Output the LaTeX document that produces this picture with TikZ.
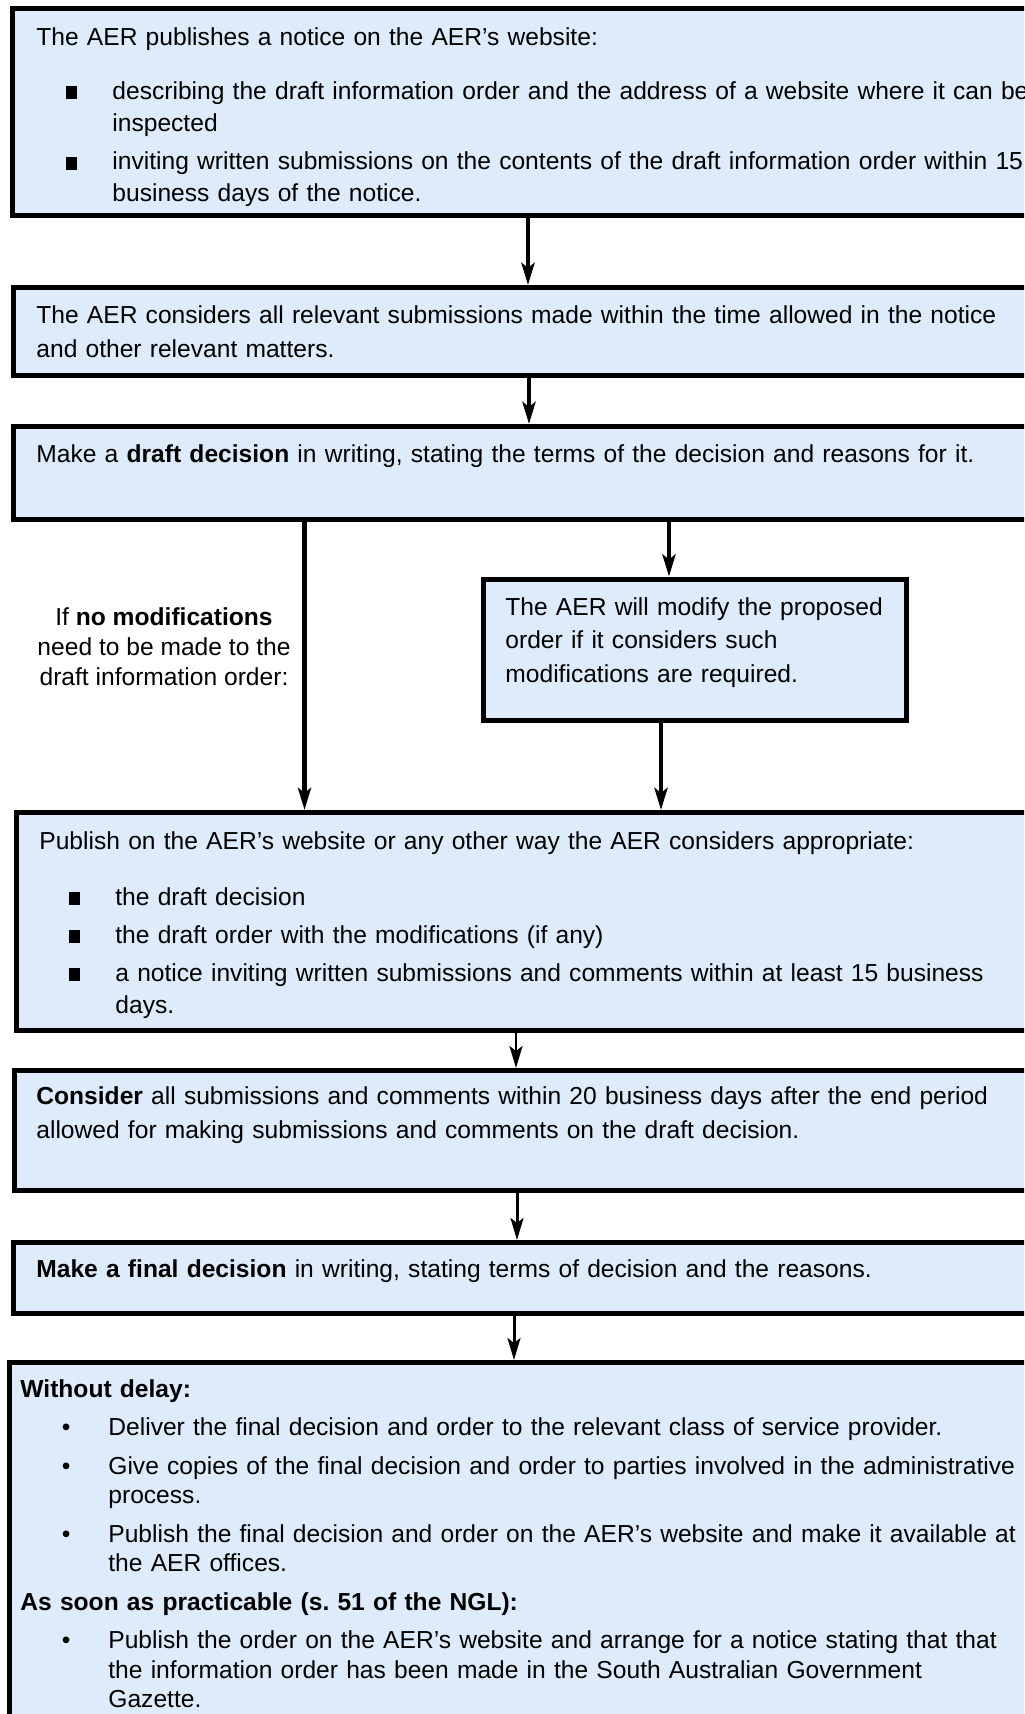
\documentclass[tikz,border=0pt]{standalone}
\usepackage{fontspec}
\setmainfont{Liberation Sans}
\usetikzlibrary{arrows.meta,positioning,fit}
\definecolor{aerblue}{RGB}{221,235,250}
\setlength{\parindent}{0pt}
\frenchspacing
\newcommand{\aerstrut}{\rule{0pt}{10pt}}
\newcommand{\sqitem}{\par\noindent\hangindent=38pt\hangafter=1\makebox[38pt][l]{\hspace{15pt}\rule{5.5pt}{6.5pt}}}
\newcommand{\dotitem}{\par\noindent\hangindent=44pt\hangafter=1\makebox[44pt][l]{\hspace{20.8pt}\textbullet}}
\tikzset{
  stepbox/.style={draw=black, fill=aerblue, line width=2.5pt, inner sep=0pt},
  steptext/.style={anchor=north west, inner sep=0pt, text width=540pt, align=left},
  flowarrow/.style={-{Stealth[length=11pt,width=6.5pt,inset=2.5pt]}, line width=2.25pt},
}
\begin{document}
\begin{tikzpicture}[x=0.5pt, y=-0.5pt, font=\fontsize{12.3pt}{16pt}\selectfont]
  \useasboundingbox (0,0) rectangle (1024,1714);
  \clip (0,0) rectangle (1024,1714);

  %caixas
  \node[stepbox, fit={(12.5,8) (1060,215)}] (b1) {};
  \node[stepbox, fit={(13.5,287.5) (1060,375.5)}] (b2) {};
  \node[stepbox, fit={(13.5,426.5) (1060,519.5)}] (b3) {};
  \node[stepbox, fit={(483.5,579) (906,720)}] (bm) {};
  \node[stepbox, fit={(16.5,812.5) (1060,1030.5)}] (b4) {};
  \node[stepbox, fit={(14,1070.5) (1060,1190.5)}] (b5) {};
  \node[stepbox, fit={(13,1242.5) (1060,1313)}] (b6) {};
  \node[stepbox, fit={(9,1362.5) (1060,1760)}] (b7) {};

  %textos
  \node[steptext] (t1) at (36,25) {\setlength{\parskip}{3.25pt}\aerstrut The AER publishes a notice on the AER’s website:\par\vspace{7.75pt}
    \sqitem describing the draft information order and the address of a website where it can be\newline inspected
    \sqitem inviting written submissions on the contents of the draft information order within 15\newline business days of the notice.\par};
  \node[steptext, font=\fontsize{12.3pt}{17pt}\selectfont] (t2) at (36,303) {\aerstrut The AER considers all relevant submissions made within the time allowed in the notice\\and other relevant matters.};
  \node[steptext] (t3) at (36,442) {\aerstrut Make a \textbf{draft decision} in writing, stating the terms of the decision and reasons for it.};
  \node[steptext, font=\fontsize{12.3pt}{16.75pt}\selectfont] (tm) at (505,595) {\aerstrut The AER will modify the proposed\\order if it considers such\\modifications are required.};
  \node[anchor=north, align=center, inner sep=0pt, font=\fontsize{12.3pt}{15pt}\selectfont] (lbl) at (164,605) {\aerstrut If \textbf{no modifications}\\need to be made to the\\draft information order:};
  \node[steptext] (t4) at (39,829) {\setlength{\parskip}{3pt}\aerstrut Publish on the AER’s website or any other way the AER considers appropriate:\par\vspace{9pt}
    \sqitem the draft decision
    \sqitem the draft order with the modifications (if any)
    \sqitem a notice inviting written submissions and comments within at least 15 business\newline days.\par};
  \node[steptext, font=\fontsize{12.3pt}{17pt}\selectfont] (t5) at (36,1084) {\aerstrut\textbf{Consider} all submissions and comments within 20 business days after the end period\\allowed for making submissions and comments on the draft decision.};
  \node[steptext] (t6) at (36,1257) {\aerstrut\textbf{Make a final decision} in writing, stating terms of decision and the reasons.};
  \node[steptext, font=\fontsize{12.3pt}{14.75pt}\selectfont] (t7) at (20,1377) {\setlength{\parskip}{4.5pt}\aerstrut\textbf{Without delay:}
    \dotitem Deliver the final decision and order to the relevant class of service provider.
    \dotitem Give copies of the final decision and order to parties involved in the administrative\newline process.
    \dotitem Publish the final decision and order on the AER’s website and make it available at\newline the AER offices.
    \par\textbf{As soon as practicable (s. 51 of the NGL):}
    \dotitem Publish the order on the AER’s website and arrange for a notice stating that that\newline the information order has been made in the South Australian Government\newline Gazette.\par};

  %setas
  \coordinate (x1) at (528,0);
  \coordinate (x2) at (529,0);
  \coordinate (x3) at (304.5,0);
  \coordinate (x4) at (669,0);
  \coordinate (x5) at (661,0);
  \coordinate (x6) at (516,0);
  \coordinate (x7) at (517,0);
  \coordinate (x8) at (514,0);
  \draw[flowarrow] (b1.south -| x1) -- (b2.north -| x1);
  \draw[flowarrow] (b2.south -| x2) -- (b3.north -| x2);
  \draw[flowarrow] (b3.south -| x3) -- (b4.north -| x3);
  \draw[flowarrow] (b3.south -| x4) -- (bm.north -| x4);
  \draw[flowarrow] (bm.south -| x5) -- (b4.north -| x5);
  \draw[flowarrow, line width=1pt] (b4.south -| x6) -- (b5.north -| x6);
  \draw[flowarrow, line width=1.5pt] (b5.south -| x7) -- (b6.north -| x7);
  \draw[flowarrow, line width=1.5pt] (b6.south -| x8) -- (b7.north -| x8);
\end{tikzpicture}
\end{document}
